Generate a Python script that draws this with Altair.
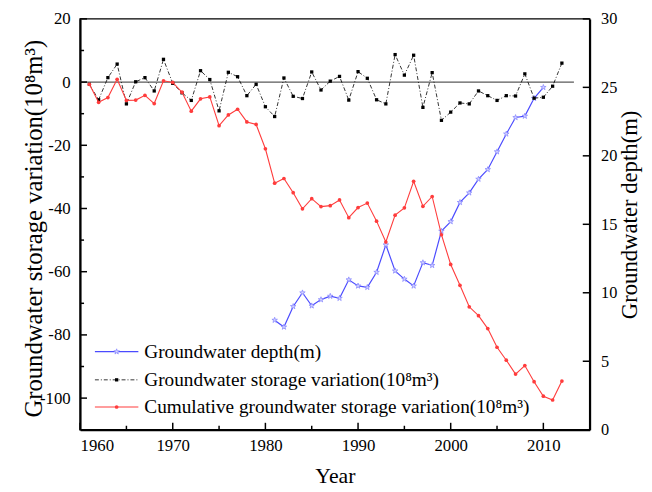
import altair as alt
import pandas as pd

# ---------------- data ----------------
storage_years = list(range(1961, 2013))
storage_variation = [
    -0.7, -5.6, 1.4, 5.7, -6.9, 0.1, 1.4, -2.8, 7.2, -0.4,
    -3.4, -5.8, 3.6, 0.8, -9.1, 3.1, 1.7, -4.3, -0.7, -7.8,
    -10.9, 1.3, -4.5, -5.2, 3.2, -2.5, 0.3, 1.8, -5.7, 3.3,
    1.2, -5.6, -6.9, 8.7, 2.2, 8.5, -8.0, 3.0, -12.1, -9.5,
    -6.6, -6.9, -2.8, -4.3, -5.8, -4.3, -4.4, 2.6, -5.1, -4.8,
    -1.3, 6.0,
]
cumulative_variation = [
    -0.7, -6.4, -4.9, 0.9, -5.8, -5.7, -4.2, -6.8, 0.4, -0.1,
    -3.2, -9.2, -5.3, -4.7, -13.8, -10.4, -8.6, -12.6, -13.4, -21.1,
    -32.0, -30.5, -35.0, -40.1, -36.9, -39.4, -39.1, -37.3, -42.9, -39.7,
    -38.3, -44.0, -50.6, -42.1, -39.8, -31.4, -39.3, -36.2, -48.3, -57.7,
    -64.3, -71.1, -73.9, -78.0, -83.9, -88.0, -92.4, -89.7, -94.8, -99.4,
    -100.6, -94.6,
]
depth_years = list(range(1981, 2011))
groundwater_depth = [
    8.0, 7.5, 9.0, 10.0, 9.05, 9.5, 9.75, 9.6, 10.95, 10.5,
    10.4, 11.5, 13.5, 11.6, 11.0, 10.5, 12.2, 12.0, 14.5, 15.2,
    16.6, 17.3, 18.3, 19.0, 20.3, 21.6, 22.8, 22.9, 24.2, 25.0,
]
zero_line = {"year": [1960], "end": [2013.3], "value": [0]}

x_major_ticks = [1960, 1970, 1980, 1990, 2000, 2010]
x_minor_ticks = [1965, 1975, 1985, 1995, 2005]
left_major_ticks = [20, 0, -20, -40, -60, -80, -100]
left_minor_ticks = [10, -10, -30, -50, -70, -90]
right_major_ticks = [0, 5, 10, 15, 20, 25, 30]

legend_labels = [
    "Groundwater depth(m)",
    "Groundwater storage variation(10⁸m³)",
    "Cumulative groundwater storage variation(10⁸m³)",
]
axis_title_left = "Groundwater storage variation(10⁸m³)"
axis_title_right = "Groundwater depth(m)"
axis_title_x = "Year"

# ---------------- styling ----------------
W, H = 516, 416
FONT = "Liberation Serif"
X_DOMAIN = [1960, 2015]
LEFT_DOMAIN = [-110, 20]
RIGHT_DOMAIN = [0, 30]
BLUE_LINE = "#4b4bff"
BLUE_FILL = "#d6d6ff"
BLUE_STROKE = "#8a8aff"
RED = "#ff3c3c"
STAR = ("M0,-1L0.2245,-0.309L0.9511,-0.309L0.3633,0.118L0.5878,0.809L0,0.382"
        "L-0.5878,0.809L-0.3633,0.118L-0.9511,-0.309L-0.2245,-0.309Z")

df_storage = pd.DataFrame({"year": storage_years, "storage": storage_variation,
                           "cumulative": cumulative_variation})
df_depth = pd.DataFrame({"year": depth_years, "depth": groundwater_depth})
df_zero = pd.DataFrame(zero_line)

common_axis = dict(ticks=False, tickSize=0, grid=False, domainColor="black", domainWidth=2,
                   labelFont=FONT, labelColor="black", titleFont=FONT, titleColor="black",
                   titleFontWeight="normal", labelExpr="'' + datum.value")

x_axis = alt.Axis(orient="bottom", values=x_major_ticks, labelFontSize=17, labelPadding=8,
                  title=axis_title_x, titleFontSize=22, titleX=W / 2, titleY=46,
                  titleAlign="center", titleBaseline="middle", **common_axis)
left_axis = alt.Axis(orient="left", values=left_major_ticks, labelFontSize=17, labelPadding=10,
                     title=axis_title_left, titleFontSize=25, titleX=-47, titleY=H / 2 + 4,
                     titleAngle=270, titleAlign="center", titleBaseline="middle", **common_axis)
right_axis = alt.Axis(orient="right", values=right_major_ticks, labelFontSize=16.5, labelPadding=11,
                      title=axis_title_right, titleFontSize=23, titleX=40, titleY=H / 2 - 10,
                      titleAngle=270, titleAlign="center", titleBaseline="middle", **common_axis)


def xs(field="year:Q"):
    # the same axis definition everywhere so that Vega-Lite merges them into one axis
    return alt.X(field, scale=alt.Scale(domain=X_DOMAIN, nice=False, zero=False), axis=x_axis,
                 title=axis_title_x)


def yl(field, axis=None):
    return alt.Y(field, scale=alt.Scale(domain=LEFT_DOMAIN, nice=False, zero=False), axis=axis)


def yr(field, axis=None):
    return alt.Y(field, scale=alt.Scale(domain=RIGHT_DOMAIN, nice=False, zero=False), axis=axis)


layers = []

# groundwater depth (right axis)
layers.append(alt.Chart(df_depth).mark_line(color=BLUE_LINE, strokeWidth=1.2).encode(
    x=xs(), y=yr("depth:Q", axis=right_axis)))
layers.append(alt.Chart(df_depth).mark_point(shape=STAR, size=34, filled=True, fill=BLUE_FILL,
                                             stroke=BLUE_STROKE, strokeWidth=0.8, opacity=1).encode(
    x=xs(), y=yr("depth:Q")))

# zero reference line
layers.append(alt.Chart(df_zero).mark_rule(color="#5a5a5a", strokeWidth=1.2).encode(
    x=xs(), x2="end:Q", y=yl("value:Q", axis=left_axis)))

# storage variation (black dash-dot)
layers.append(alt.Chart(df_storage).mark_line(color="black", strokeWidth=0.8,
                                              strokeDash=[4, 2, 1, 2]).encode(
    x=xs(), y=yl("storage:Q")))
layers.append(alt.Chart(df_storage).mark_point(shape="square", size=11, filled=True,
                                               color="black", opacity=1).encode(
    x=xs(), y=yl("storage:Q")))

# cumulative (red)
layers.append(alt.Chart(df_storage).mark_line(color=RED, strokeWidth=1.1).encode(
    x=xs(), y=yl("cumulative:Q")))
layers.append(alt.Chart(df_storage).mark_point(shape="circle", size=14, filled=True,
                                               color=RED, opacity=1).encode(
    x=xs(), y=yl("cumulative:Q")))

# inward ticks
tick_style = dict(color="black", strokeWidth=1.5)
layers.append(alt.Chart(pd.DataFrame({"year": x_major_ticks})).mark_rule(**tick_style).encode(
    x=xs(), y=alt.value(H), y2=alt.value(H - 7)))
layers.append(alt.Chart(pd.DataFrame({"year": x_minor_ticks})).mark_rule(**tick_style).encode(
    x=xs(), y=alt.value(H), y2=alt.value(H - 4)))
layers.append(alt.Chart(pd.DataFrame({"t": left_major_ticks})).mark_rule(**tick_style).encode(
    y=yl("t:Q"), x=alt.value(0), x2=alt.value(7)))
layers.append(alt.Chart(pd.DataFrame({"t": left_minor_ticks})).mark_rule(**tick_style).encode(
    y=yl("t:Q"), x=alt.value(0), x2=alt.value(4)))
layers.append(alt.Chart(pd.DataFrame({"t": right_major_ticks})).mark_rule(**tick_style).encode(
    y=yr("t:Q"), x=alt.value(W), x2=alt.value(W - 7)))

# manual legend
legend_y = [337, 365.5, 393]
legend_line_styles = [
    dict(color=BLUE_LINE, strokeWidth=1.2),
    dict(color="black", strokeWidth=0.8, strokeDash=[4, 2, 1, 2]),
    dict(color=RED, strokeWidth=1.1),
]
legend_markers = [
    dict(shape=STAR, size=34, filled=True, fill=BLUE_FILL, stroke=BLUE_STROKE, strokeWidth=0.8, opacity=1),
    dict(shape="square", size=11, filled=True, color="black", opacity=1),
    dict(shape="circle", size=14, filled=True, color=RED, opacity=1),
]
for label, py, lstyle, mstyle in zip(legend_labels, legend_y, legend_line_styles, legend_markers):
    d = pd.DataFrame({"label": [label]})
    layers.append(alt.Chart(d).mark_rule(**lstyle).encode(
        x=alt.value(15), x2=alt.value(59), y=alt.value(py)))
    layers.append(alt.Chart(d).mark_point(**mstyle).encode(x=alt.value(37), y=alt.value(py)))
    layers.append(alt.Chart(d).mark_text(align="left", baseline="middle", font=FONT,
                                         fontSize=19.5, color="black").encode(
        x=alt.value(65), y=alt.value(py), text="label:N"))

chart = alt.layer(*layers).resolve_scale(y="independent").properties(
    width=W, height=H,
    autosize=alt.AutoSizeParams(type="none"),
    padding={"left": 73, "top": 8, "right": 55, "bottom": 56},
).configure_view(stroke="black", strokeWidth=1.5)

chart.save("out.html", embed_options={"renderer": "svg", "actions": False})
